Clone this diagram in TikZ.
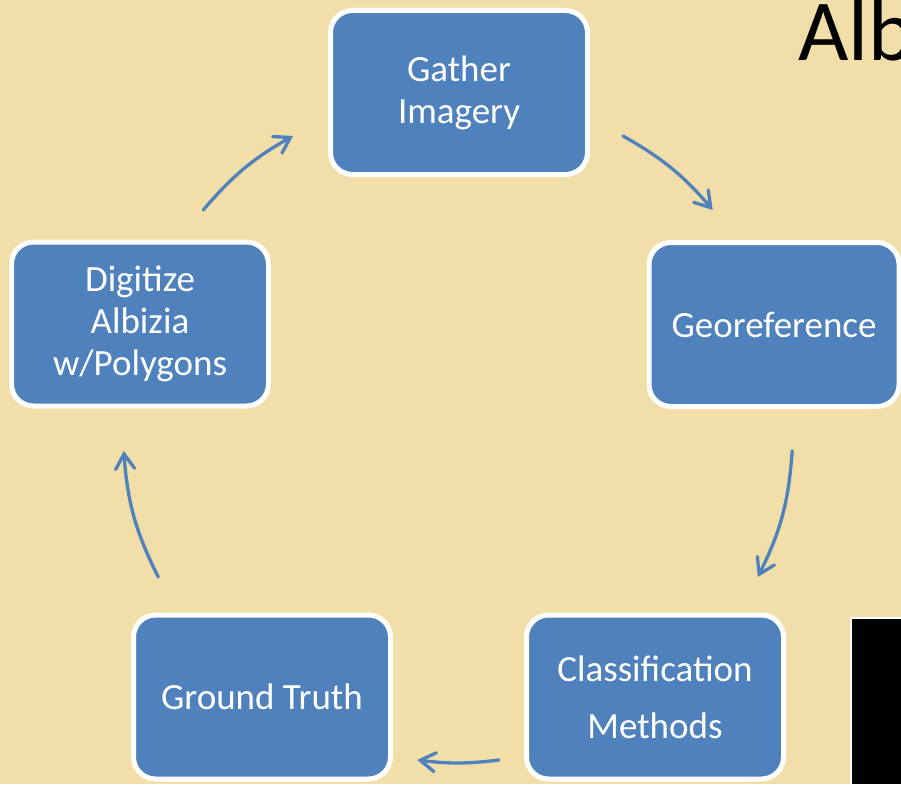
\documentclass[tikz,border=0pt]{standalone}
\usepackage{fontspec}
\setmainfont{Carlito}
\usetikzlibrary{arrows.meta}
\usetikzlibrary{calc}

\definecolor{boxblue}{RGB}{79,129,189}
\definecolor{parchment}{RGB}{241,222,168}

\begin{document}
\begin{tikzpicture}[x=1pt, y=1pt,
    stepbox/.style={draw=white, line width=5pt, fill=boxblue, rounded corners=22pt,
        minimum width=257pt, minimum height=164pt, text=white, align=center,
        font=\fontsize{37}{42}\selectfont},
    cycarrow/.style={boxblue, line width=3.3pt, line cap=round,
        -{Straight Barb[length=15pt, width=19pt, line cap=round]}}]

    \useasboundingbox (0,0) rectangle (901,-784);
    \clip (0,0) rectangle (901,-784);
    \fill[parchment] (0,0) rectangle (901,-784);

    \coordinate (hub) at (458,-427.5);
    \coordinate (C1) at (459,-92.5);
    \coordinate (C2) at (774,-324.5);
    \coordinate (C3) at (655,-697);
    \coordinate (C4) at (262,-697);
    \coordinate (C5) at (140,-324);

    \node[anchor=base west, font=\fontsize{87}{100}\selectfont] (title) at (795,-60) {Alb};

    \node[stepbox] (gather) at (C1) {Gather\\Imagery};
    \node[stepbox, minimum width=250pt] (georef) at (C2) {Georeference};
    \node[stepbox] (classif) at (C3) {Classification\\[15pt]Methods};
    \node[stepbox] (ground) at (C4) {Ground Truth};
    \node[stepbox] (digitize) at (C5) {Digitize\\Albizia\\w/Polygons};

    % arrow ends sit on the circle through the box centres
    \coordinate (digOut) at ([shift={(139.5:335)}]hub);
    \coordinate (gatIn) at ([shift={(119.5:335)}]hub);
    \coordinate (gatOut) at ([shift={(60.5:335)}]hub);
    \coordinate (geoIn) at ([shift={(40.5:335)}]hub);
    \coordinate (geoOut) at ([shift={(-4:335)}]hub);
    \coordinate (claIn) at ([shift={(-26.5:335)}]hub);
    \coordinate (claOut) at ([shift={(-83:335)}]hub);
    \coordinate (groIn) at ([shift={(-97:335)}]hub);
    \coordinate (groOut) at ([shift={(206.5:335)}]hub);
    \coordinate (digIn) at ([shift={(184:335)}]hub);

    \draw[cycarrow] (digOut) to[out=49.5, in=209.5] (gatIn);
    \draw[cycarrow] (gatOut) to[out=-29.5, in=130.5] (geoIn);
    \draw[cycarrow] (geoOut) to[out=-94, in=63.5] (claIn);
    \draw[cycarrow] (claOut) to[out=-173, in=-7] (groIn);
    \draw[cycarrow] (groOut) to[out=116.5, in=274] (digIn);

    \fill[black] (852,-619) rectangle (901,-784);
    \draw[white, line width=2pt] (851,-784) -- (851,-618) -- (901,-618);

\end{tikzpicture}
\end{document}
